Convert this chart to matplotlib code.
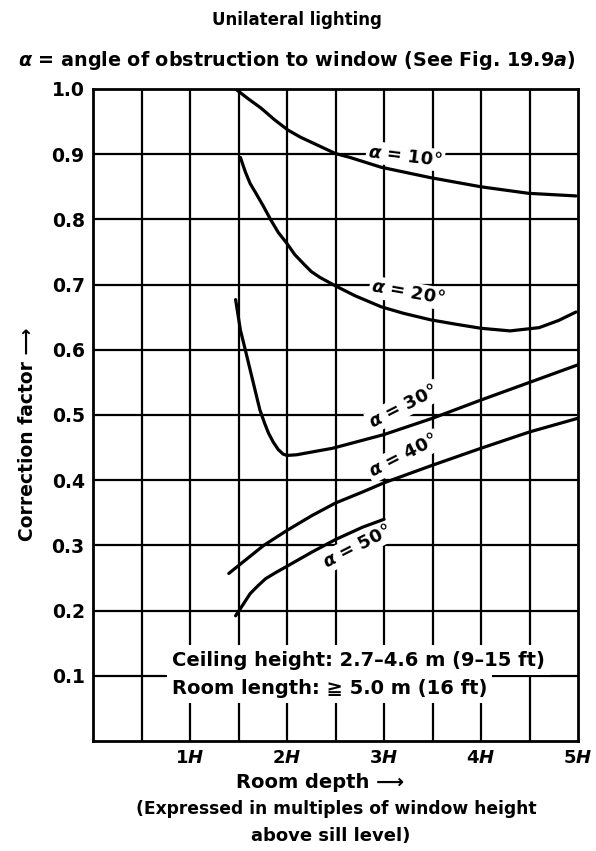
import matplotlib.pyplot as plt
import numpy as np

# curve data (room depth in multiples of H, correction factor)
x10 = [1.47, 1.6, 1.73, 1.87, 2.01, 2.14, 2.27, 2.5, 2.65, 2.97, 3.48, 4.0, 4.49, 4.98]
y10 = [1.0, 0.985, 0.971, 0.953, 0.937, 0.926, 0.917, 0.901, 0.895, 0.88, 0.864, 0.85, 0.84, 0.836]

x20 = [1.52, 1.57, 1.62, 1.68, 1.75, 1.83, 1.91, 2.0, 2.08, 2.17, 2.25, 2.34, 2.5, 2.7, 2.97, 3.2, 3.48, 3.75,
       4.0, 4.3, 4.6, 4.8, 4.98]
y20 = [0.895, 0.873, 0.855, 0.84, 0.822, 0.8, 0.78, 0.763, 0.746, 0.732, 0.72, 0.711, 0.698, 0.683, 0.666, 0.656,
       0.646, 0.639, 0.633, 0.629, 0.634, 0.645, 0.658]

x30 = [1.47, 1.52, 1.57, 1.64, 1.72, 1.77, 1.81, 1.86, 1.91, 1.96, 2.0, 2.1, 2.21, 2.47, 3.0, 3.5, 4.0, 4.5, 5.0]
y30 = [0.677, 0.63, 0.60, 0.557, 0.508, 0.487, 0.472, 0.458, 0.447, 0.44, 0.438, 0.439, 0.442, 0.449, 0.47, 0.495,
       0.523, 0.55, 0.577]

x40 = [1.40, 1.5, 1.76, 2.0, 2.26, 2.5, 2.78, 3.0, 3.5, 4.0, 4.5, 5.0]
y40 = [0.257, 0.269, 0.30, 0.323, 0.346, 0.365, 0.382, 0.396, 0.423, 0.449, 0.474, 0.495]

x50 = [1.47, 1.55, 1.62, 1.7, 1.78, 1.88, 2.0, 2.26, 2.5, 2.78, 3.0]
y50 = [0.192, 0.21, 0.226, 0.238, 0.249, 0.258, 0.268, 0.29, 0.309, 0.328, 0.34]

xticks_major = [1, 2, 3, 4, 5]
xtick_labels = [r'1$\mathit{H}$', r'2$\mathit{H}$', r'3$\mathit{H}$', r'4$\mathit{H}$', r'5$\mathit{H}$']
yticks = [0.1, 0.2, 0.3, 0.4, 0.5, 0.6, 0.7, 0.8, 0.9, 1.0]

plt.rcParams['font.family'] = ['DejaVu Sans']
plt.rcParams['font.weight'] = 'bold'
plt.rcParams['mathtext.fontset'] = 'custom'
plt.rcParams['mathtext.rm'] = 'DejaVu Sans:bold'
plt.rcParams['mathtext.it'] = 'DejaVu Sans:bold:italic'
plt.rcParams['mathtext.bf'] = 'DejaVu Sans:bold'

fig = plt.figure(figsize=(5.96, 8.51), dpi=100)
ax = fig.add_axes([93 / 596, 1 - 741 / 851, 485 / 596, 652 / 851])
ax.set_xlim(0, 5)
ax.set_ylim(0, 1.0)

# grid
for gx in np.arange(0.5, 5.0, 0.5):
    ax.axvline(gx, color='black', lw=1.6, zorder=1)
for gy in yticks[:-1]:
    ax.axhline(gy, color='black', lw=1.6, zorder=1)
for s in ax.spines.values():
    s.set_linewidth(2)

ax.set_xticks(xticks_major)
ax.set_xticklabels(xtick_labels, fontsize=13)
ax.set_yticks(yticks)
ax.set_yticklabels(['%.1f' % v for v in yticks], fontsize=13.5)
ax.tick_params(length=0, pad=6)

for xs, ys in [(x10, y10), (x20, y20), (x30, y30), (x40, y40), (x50, y50)]:
    ax.plot(xs, ys, color='black', lw=2.3, zorder=4, solid_capstyle='round', solid_joinstyle='round')

box = dict(facecolor='white', edgecolor='none', pad=1.5)
ax.text(3.22, 0.897, r'$\alpha$ = 10°', fontsize=13, rotation=-7, ha='center', va='center', bbox=box, zorder=3)
ax.text(3.25, 0.687, r'$\alpha$ = 20°', fontsize=13, rotation=-10, ha='center', va='center', bbox=box, zorder=3)
ax.text(3.2, 0.513, r'$\alpha$ = 30°', fontsize=13, rotation=27, ha='center', va='center', bbox=box, zorder=3)
ax.text(3.2, 0.437, r'$\alpha$ = 40°', fontsize=13, rotation=27, ha='center', va='center', bbox=box, zorder=3)
ax.text(2.72, 0.298, r'$\alpha$ = 50°', fontsize=13, rotation=27, ha='center', va='center', bbox=box, zorder=3)

ax.text(0.81, 0.124, 'Ceiling height: 2.7\u20134.6 m (9\u201315 ft)', fontsize=14,
        ha='left', va='center', zorder=3,
        bbox=dict(facecolor='white', edgecolor='none', boxstyle='square,pad=0.3'))
ax.text(0.81, 0.081, 'Room length: \u2267 5.0 m (16 ft)', fontsize=14,
        ha='left', va='center', zorder=3,
        bbox=dict(facecolor='white', edgecolor='none', boxstyle='square,pad=0.25'))

fig.text(297 / 596, 1 - 20 / 851, 'Unilateral lighting', fontsize=12, ha='center', va='center')
fig.text(297 / 596, 1 - 60 / 851, r'$\alpha$ = angle of obstruction to window (See Fig. 19.9$\mathit{a}$)',
         fontsize=13.8, ha='center', va='center')
fig.text(28 / 596, 1 - 434 / 851, 'Correction factor \u27f6', fontsize=13.5, rotation=90,
         ha='center', va='center')
fig.text(320 / 596, 1 - 783 / 851, 'Room depth \u27f6', fontsize=14, ha='center', va='center')
fig.text(336 / 596, 1 - 809 / 851, '(Expressed in multiples of window height', fontsize=12.3,
         ha='center', va='center')
fig.text(331 / 596, 1 - 836 / 851, 'above sill level)', fontsize=13, ha='center', va='center')

fig.savefig('out.png', dpi=100)
